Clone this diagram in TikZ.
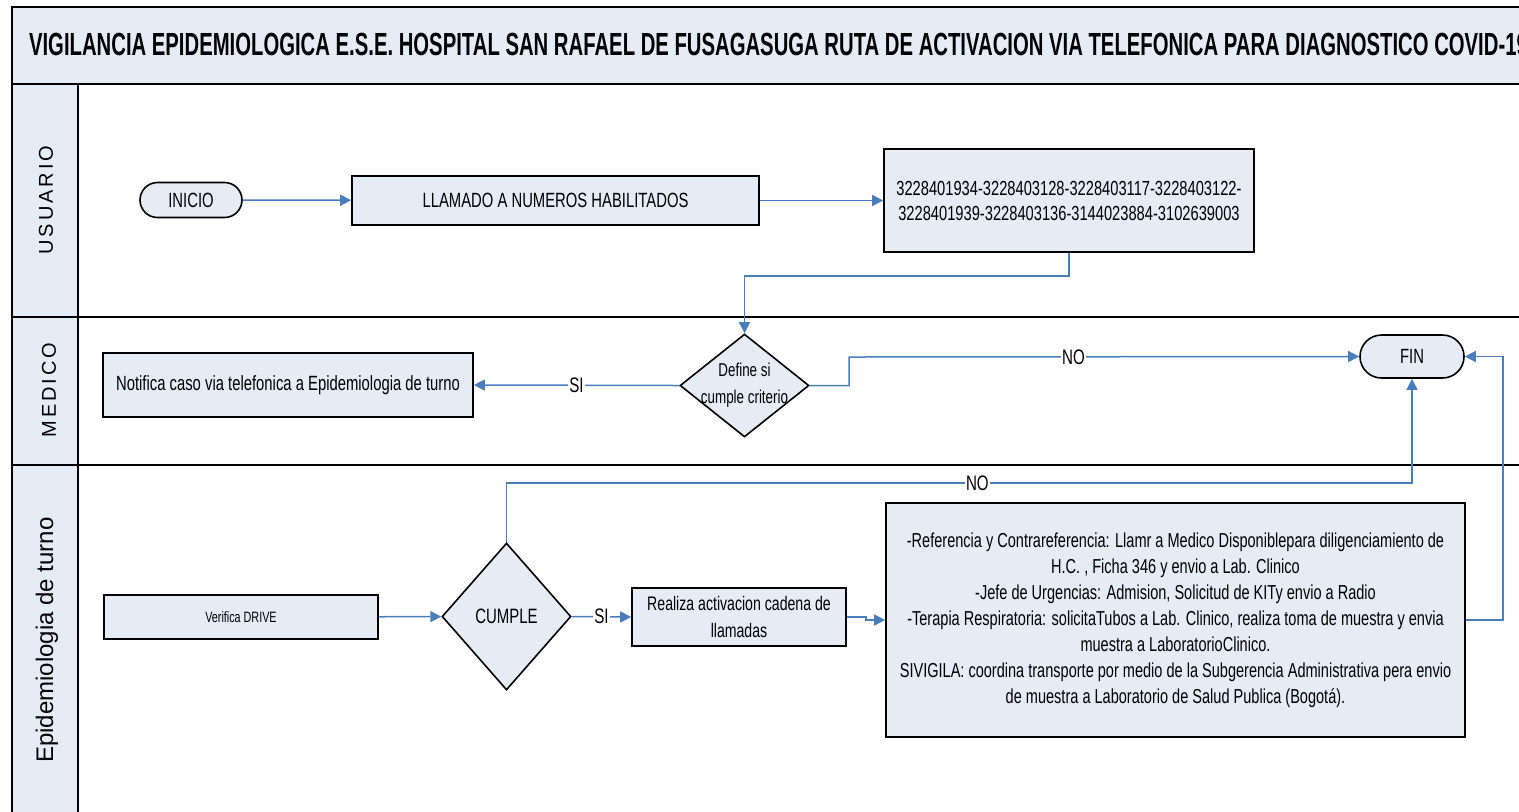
\documentclass[tikz,border=0pt]{standalone}
\usepackage{fontspec}
\setmainfont{Liberation Sans}
\newfontfamily\narrowfont[FakeStretch=0.72]{Liberation Sans}
\newfontfamily\titlefont[FakeStretch=0.634]{Liberation Sans}
\newfontfamily\lanefont[LetterSpace=15]{Liberation Sans}
\usetikzlibrary{shapes.geometric,shapes.misc,arrows.meta}
\definecolor{lanefill}{RGB}{230,236,246}
\definecolor{flowblue}{RGB}{74,126,187}

\begin{document}
\begin{tikzpicture}[x=0.5pt,y=-0.5pt]
  \tikzset{box/.style = {shape=rectangle,draw,fill=lanefill,line width=0.8pt,inner sep=0pt,align=center,font=\narrowfont\fontsize{10.3}{13.5}\selectfont}}
  \tikzset{terminal/.style = {box,shape=rounded rectangle}}
  \tikzset{decision/.style = {box,shape=diamond}}
  \tikzset{flow/.style = {draw=flowblue,line width=0.75pt,-{Triangle[length=5.5pt,width=5.5pt]}}}
  \tikzset{answer/.style = {fill=white,inner sep=0.6pt,font=\narrowfont\fontsize{10.5}{12}\selectfont}}
  \tikzset{lane/.style = {rotate=90,font=\lanefont\fontsize{10}{12}\selectfont}}
  \useasboundingbox (0,0) rectangle (1519,811);
  \clip (0,0) rectangle (1519,811);

  \draw[line width=1.1pt,fill=lanefill] (12,7) rectangle (1560,84);
  \draw[line width=1.1pt,fill=lanefill] (12,84) rectangle (78,840);
  \draw[line width=1.1pt] (12,317) -- (1560,317);
  \draw[line width=1.1pt] (12,465) -- (1560,465);

  \node[anchor=west,font=\titlefont\bfseries\fontsize{16}{18}\selectfont] (title) at (22,44) {VIGILANCIA EPIDEMIOLOGICA E.S.E. HOSPITAL SAN RAFAEL DE FUSAGASUGA RUTA DE ACTIVACION VIA TELEFONICA PARA DIAGNOSTICO COVID-19};

  \node[lane] (usuario) at (46,200) {USUARIO};
  \node[lane] (medico) at (49,390) {MEDICO};
  \node[lane,font=\fontsize{12}{14}\selectfont] (epidemio) at (47,640) {Epidemiologia de turno};

  \node[terminal,minimum width=51pt,minimum height=17.5pt] (inicio) at (191,200) {INICIO};
  \node[box,minimum width=203.5pt,minimum height=24.5pt] (llamado) at (555.5,200.5) {LLAMADO A NUMEROS HABILITADOS};
  \node[box,minimum width=185pt,minimum height=51.5pt,font=\narrowfont\fontsize{10.2}{12.5}\selectfont] (numeros) at (1069,200.5) {3228401934-3228403128-3228403117-3228403122-\\3228401939-3228403136-3144023884-3102639003};

  \node[decision,minimum width=64.5pt,minimum height=51.5pt,label={[align=center,font=\narrowfont\fontsize{9.3}{13.5}\selectfont]center:Define si\\cumple criterio}] (define) at (744.5,385.5) {};
  \node[box,minimum width=185pt,minimum height=32pt] (notifica) at (288,385) {Notifica caso via telefonica a Epidemiologia de turno};
  \node[terminal,minimum width=52pt,minimum height=21.5pt] (fin) at (1412,356.5) {FIN};

  \node[box,minimum width=137pt,minimum height=22pt,font=\narrowfont\fontsize{7.5}{9}\selectfont] (verifica) at (241,617) {Verifica DRIVE};
  \node[decision,minimum width=64.5pt,minimum height=73.5pt,font=\narrowfont\fontsize{10.4}{13}\selectfont] (cumple) at (506.5,616.5) {CUMPLE};
  \node[box,minimum width=107pt,minimum height=29pt,font=\narrowfont\fontsize{9.8}{13.5}\selectfont] (realiza) at (739,617) {Realiza activacion cadena de\\llamadas};
  \node[box,minimum width=289.5pt,minimum height=117pt,font=\narrowfont\fontsize{10.1}{13}\selectfont] (acciones) at (1175.5,620) {-Referencia y Contrareferencia: Llamr a Medico Disponiblepara diligenciamiento de\\H.C. , Ficha 346 y envio a Lab. Clinico\\-Jefe de Urgencias: Admision, Solicitud de KITy envio a Radio\\-Terapia Respiratoria: solicitaTubos a Lab. Clinico, realiza toma de muestra y envia\\muestra a LaboratorioClinico.\\SIVIGILA: coordina transporte por medio de la Subgerencia Administrativa pera envio\\de muestra a Laboratorio de Salud Publica (Bogotá).};

  \coordinate (bend1) at (900,276);
  \coordinate (bend2) at (849,357);
  \coordinate (bend3) at (0,483);
  \coordinate (jog) at (866,617);
  \coordinate (bend4) at (1503,356.5);

  \draw[flow] (inicio) -- (llamado);
  \draw[flow] (llamado) -- (numeros);
  \draw[flow] (numeros.south) |- (bend1) -| (define.north);
  \draw[flow] (define.west) -- node[answer]{SI} (notifica.east);
  \draw[flow] (define.east) -| (bend2) -- node[answer,pos=0.44]{NO} (fin.west);
  \draw[flow] (verifica) -- (cumple);
  \draw[flow] (cumple.east) -- node[answer]{SI} (realiza.west);
  \draw[flow] (realiza.east) -- (jog) |- (acciones.west);
  \draw[flow] (cumple.north) -- (cumple.north |- bend3) -- node[answer,pos=0.52]{NO} (fin.south |- bend3) -- (fin.south);
  \draw[flow] (acciones.east) -| (bend4) -- (fin.east);
\end{tikzpicture}
\end{document}
